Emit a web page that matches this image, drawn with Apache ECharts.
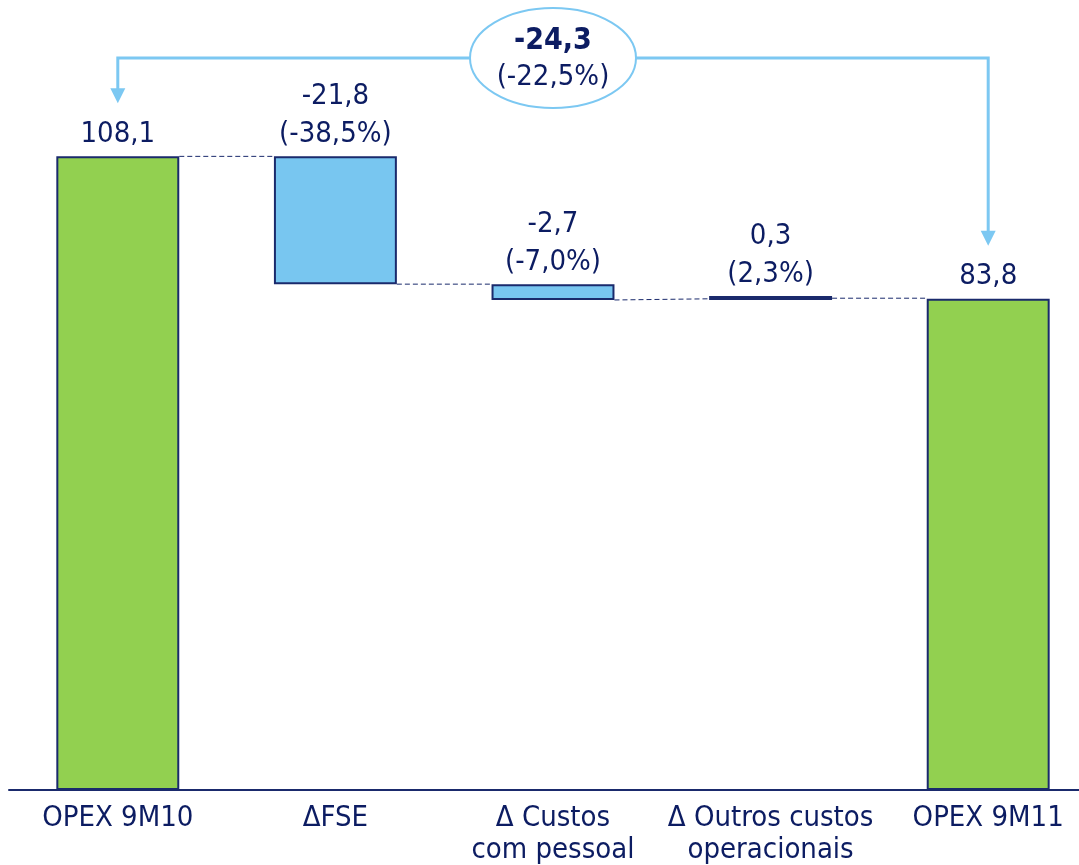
<!DOCTYPE html>
<html>
<head>
<meta charset="utf-8">
<script src="https://cdn.jsdelivr.net/npm/echarts@6.0.0/dist/echarts.min.js"></script>
<style>
  html, body { margin: 0; padding: 0; background: #ffffff; }
  #chart { width: 1079px; height: 865px; }
</style>
</head>
<body>
<div id="chart"></div>
<script>
// OPEX bridge: 9M10 -> 9M11 (M€)
const categories = ['OPEX 9M10', 'ΔFSE', 'Δ Custos\ncom pessoal', 'Δ Outros custos\noperacionais', 'OPEX 9M11'];
const opexStart = 108.1;
const opexEnd = 83.8;
const deltas = [-21.8, -2.7, 0.3];
const deltaPct = ['-38,5%', '-7,0%', '2,3%'];
const totalPct = '-22,5%';

const FONT = '"DejaVu Sans Condensed", "DejaVu Sans", sans-serif';
const NAVY = '#0c1c62';
const BORDER = '#1a2a6c';
const GREEN = '#92d050';
const BLUE = '#78c6f0';
const ARROW = '#7cc8f2';

const fmt = v => v.toFixed(1).replace('.', ',');

// Invisible base + visible height for each step of the bridge
const base = [];
const height = [];
const colors = [];
const labels = [];
const levels = []; // running level after each bar (for connectors)
base.push(0); height.push(opexStart); colors.push(GREEN); labels.push(fmt(opexStart));
let level = opexStart;
levels.push(level);
deltas.forEach((d, i) => {
  const next = level + d;
  base.push(Math.min(level, next));
  height.push(Math.abs(d));
  colors.push(d > 0 ? NAVY : BLUE);
  labels.push(fmt(d) + '\n(' + deltaPct[i] + ')');
  level = next;
  levels.push(level);
});
base.push(0); height.push(opexEnd); colors.push(GREEN); labels.push(fmt(opexEnd));

const BAR_RATIO = 0.565;

// dashed connectors between consecutive bars
const connectorData = levels.map((lv, i) => [i, lv]);

const chart = echarts.init(document.getElementById('chart'), null, { renderer: 'canvas' });

chart.setOption({
  animation: false,
  backgroundColor: '#ffffff',
  grid: { left: 9, width: 1088, top: 28, bottom: 75, outerBoundsMode: 'none', containLabel: false },
  xAxis: {
    type: 'category',
    data: categories,
    axisLine: { lineStyle: { color: BORDER, width: 2 } },
    axisTick: { show: false },
    axisLabel: {
      color: NAVY, fontFamily: FONT, fontSize: 29, lineHeight: 32,
      margin: 12, interval: 0
    }
  },
  yAxis: {
    type: 'value', min: 0, max: 130,
    show: false, splitLine: { show: false }
  },
  series: [
    {
      type: 'bar', stack: 'w', data: base, barWidth: BAR_RATIO * 100 + '%',
      itemStyle: { color: 'transparent' }, silent: true
    },
    {
      type: 'bar', stack: 'w', barWidth: BAR_RATIO * 100 + '%',
      barMinHeight: 4,
      data: height.map((h, i) => ({
        value: h,
        itemStyle: { color: colors[i], borderColor: BORDER, borderWidth: 2 },
        label: { formatter: labels[i] }
      })),
      label: {
        show: true, position: 'top', distance: 3,
        color: NAVY, fontFamily: FONT, fontSize: 29, lineHeight: 38
      }
    },
    {
      type: 'custom',
      data: connectorData,
      silent: true,
      z: 1,
      renderItem: function (params, api) {
        const i = api.value(0);
        const lv = api.value(1);
        const half = api.size([1, 0])[0] * BAR_RATIO / 2;
        const p0 = api.coord([i, lv]);
        const targetLv = (i + 2 === levels.length) ? opexEnd : lv;
        const p1 = api.coord([i + 1, targetLv]);
        return {
          type: 'line',
          shape: { x1: p0[0] + half, y1: p0[1], x2: p1[0] - half, y2: p1[1] },
          style: { stroke: BORDER, lineWidth: 1, lineDash: [5, 3] }
        };
      }
    }
  ]
});

// Total change annotation: arrows from a labelled ellipse to first and last bars
(function () {
  const totalDelta = opexEnd - opexStart;
  const pStart = chart.convertToPixel({ xAxisIndex: 0, yAxisIndex: 0 }, [0, opexStart]);
  const pEnd = chart.convertToPixel({ xAxisIndex: 0, yAxisIndex: 0 }, [categories.length - 1, opexEnd]);
  const pMid = chart.convertToPixel({ xAxisIndex: 0, yAxisIndex: 0 }, [2, 0]);
  const lineY = 58;
  const gap = 53;
  const head = 15;
  const cx = pMid[0], rx = 83, ry = 50;
  const lw = 3;
  const tipL = pStart[1] - gap;
  const tipR = pEnd[1] - gap;
  chart.setOption({
    graphic: [
      {
        type: 'polyline',
        shape: { points: [[cx, lineY], [pStart[0], lineY], [pStart[0], tipL - head + 1]] },
        style: { stroke: ARROW, lineWidth: lw, fill: null }
      },
      {
        type: 'polygon',
        shape: { points: [[pStart[0] - 7.5, tipL - head], [pStart[0] + 7.5, tipL - head], [pStart[0], tipL]] },
        style: { fill: ARROW }
      },
      {
        type: 'polyline',
        shape: { points: [[cx, lineY], [pEnd[0], lineY], [pEnd[0], tipR - head + 1]] },
        style: { stroke: ARROW, lineWidth: lw, fill: null }
      },
      {
        type: 'polygon',
        shape: { points: [[pEnd[0] - 7.5, tipR - head], [pEnd[0] + 7.5, tipR - head], [pEnd[0], tipR]] },
        style: { fill: ARROW }
      },
      {
        type: 'ellipse',
        shape: { cx: cx, cy: lineY, rx: rx, ry: ry },
        style: { fill: '#ffffff', stroke: ARROW, lineWidth: 2 }
      },
      {
        type: 'text',
        x: cx, y: lineY + 1,
        style: {
          text: '{b|' + fmt(totalDelta) + '}\n{n|(' + totalPct + ')}',
          align: 'center', verticalAlign: 'middle',
          rich: {
            b: { fontFamily: FONT, fontSize: 30, fontWeight: 'bold', fill: NAVY, lineHeight: 36, align: 'center' },
            n: { fontFamily: FONT, fontSize: 29, fill: NAVY, lineHeight: 36, align: 'center' }
          }
        }
      }
    ]
  });
})();
</script>
</body>
</html>
